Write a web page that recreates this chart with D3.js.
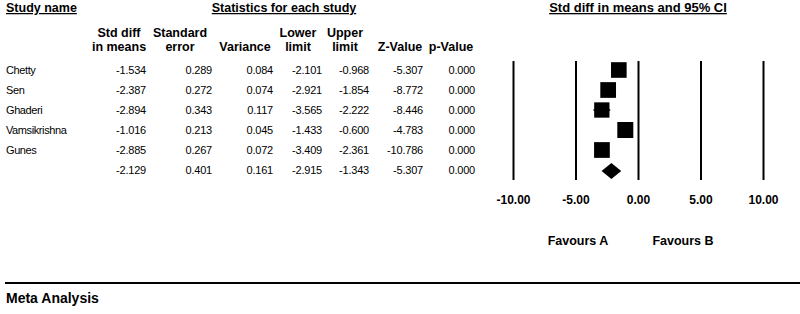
<!DOCTYPE html>
<html>
<head>
<meta charset="utf-8">
<script src="https://cdn.jsdelivr.net/npm/d3@7"></script>
<style>
  body { margin: 0; background: #fff; }
  text { font-family: "Liberation Sans", Arial, sans-serif; fill: #000; }
</style>
</head>
<body>
<div id="myChart"></div>
<script>
// Data
const studies   = ["Chetty", "Sen", "Ghaderi", "Vamsikrishna", "Gunes", ""];
const stdDiff   = [-1.534, -2.387, -2.894, -1.016, -2.885, -2.129];
const stdErr    = [0.289, 0.272, 0.343, 0.213, 0.267, 0.401];
const variance  = [0.084, 0.074, 0.117, 0.045, 0.072, 0.161];
const lowerLim  = [-2.101, -2.921, -3.565, -1.433, -3.409, -2.915];
const upperLim  = [-0.968, -1.854, -2.222, -0.600, -2.361, -1.343];
const zValue    = [-5.307, -8.772, -8.446, -4.783, -10.786, -5.307];
const pValue    = [0.000, 0.000, 0.000, 0.000, 0.000, 0.000];
const axisTicks = [-10, -5, 0, 5, 10];
const favours   = [{label: "Favours A", at: -4.8}, {label: "Favours B", at: 3.6}];

const w = 800, h = 314;

const svg = d3.select("#myChart")
  .append("svg")
    .attr("width", w)
    .attr("height", h)
    .attr("viewBox", [0, 0, w, h]);

const rows = d3.range(studies.length);
const yScale = d3.scalePoint().domain(rows).range([70, 170]);
const xScale = d3.scaleLinear().domain([-10, 10]).range([513, 763]);

// table columns (right edges)
const columns = [
  {key: "stdDiff",  vals: stdDiff,  head: ["Std diff", "in means"]},
  {key: "stdErr",   vals: stdErr,   head: ["Standard", "error"]},
  {key: "variance", vals: variance, head: ["", "Variance"]},
  {key: "lower",    vals: lowerLim, head: ["Lower", "limit"]},
  {key: "upper",    vals: upperLim, head: ["Upper", "limit"]},
  {key: "z",        vals: zValue,   head: ["", "Z-Value"]},
  {key: "p",        vals: pValue,   head: ["", "p-Value"]}
];
const colRight = d3.scaleOrdinal()
  .domain(columns.map(c => c.key))
  .range([146, 212, 273, 322, 369, 423, 475]);
const headCenter = d3.scaleOrdinal()
  .domain(columns.map(c => c.key))
  .range([119, 180, 245, 298, 345, 400, 451]);

// Section titles
const titles = [
  {t: "Study name", x: 6, anchor: "start", size: 12.5},
  {t: "Statistics for each study", x: 284, anchor: "middle", size: 12.5},
  {t: "Std diff in means and 95% CI", x: 638, anchor: "middle", size: 13}
];
svg.selectAll("text.title")
  .data(titles)
  .enter()
  .append("text")
    .attr("class", "title")
    .attr("x", d => d.x)
    .attr("y", 12)
    .attr("text-anchor", d => d.anchor)
    .style("font-size", d => d.size + "px")
    .style("font-weight", "bold")
    .style("text-decoration", "underline")
    .text(d => d.t);

// Column headers
columns.forEach(c => {
  c.head.forEach((line, i) => {
    if (!line) return;
    svg.append("text")
      .attr("x", headCenter(c.key))
      .attr("y", 37 + i * 14)
      .attr("text-anchor", "middle")
      .style("font-size", "12.5px")
      .style("font-weight", "bold")
      .text(line);
  });
});

// Study names
svg.selectAll("text.name")
  .data(rows)
  .enter()
  .append("text")
    .attr("class", "name")
    .attr("x", 6)
    .attr("y", i => yScale(i) + 4)
    .style("font-size", "11px")
    .style("letter-spacing", "-0.4px")
    .text(i => studies[i]);

// Numeric cells
columns.forEach(c => {
  svg.selectAll("text.cell-" + c.key)
    .data(rows)
    .enter()
    .append("text")
      .attr("class", "cell-" + c.key)
      .attr("x", colRight(c.key))
      .attr("y", i => yScale(i) + 4)
      .attr("text-anchor", "end")
      .style("font-size", "11px")
      .style("letter-spacing", "-0.2px")
      .text(i => c.vals[i].toFixed(3));
});

// Vertical reference lines + tick labels
const xAxis = d3.axisBottom(xScale)
  .tickValues(axisTicks)
  .tickFormat(d => d.toFixed(2))
  .tickSize(-(180 - 61))
  .tickPadding(15);

const axisG = svg.append("g")
  .attr("transform", "translate(0,180)")
  .call(xAxis);
axisG.select(".domain").remove();
axisG.selectAll(".tick line").attr("stroke", "#000").attr("stroke-width", 2);
axisG.selectAll(".tick text")
  .attr("fill", "#000")
  .style("font-family", "'Liberation Sans', Arial, sans-serif")
  .style("font-size", "12px")
  .style("font-weight", "bold");

// Random-effects weights for box sizes
const wFix = variance.slice(0, 5).map(v => 1 / v);
const sumW = d3.sum(wFix);
const meanFix = d3.sum(wFix.map((wi, i) => wi * stdDiff[i])) / sumW;
const Q = d3.sum(wFix.map((wi, i) => wi * (stdDiff[i] - meanFix) ** 2));
const C = sumW - d3.sum(wFix.map(wi => wi * wi)) / sumW;
const tau2 = Math.max(0, (Q - 4) / C);
const wRan = variance.slice(0, 5).map(v => 1 / (v + tau2));
const sizeScale = d3.scaleSqrt().domain([0, d3.max(wRan)]).range([0, 16]);

const studyRows = rows.slice(0, 5);

// CI lines
svg.selectAll("line.ci")
  .data(studyRows)
  .enter()
  .append("line")
    .attr("class", "ci")
    .attr("x1", i => xScale(lowerLim[i]))
    .attr("x2", i => xScale(upperLim[i]))
    .attr("y1", i => yScale(i))
    .attr("y2", i => yScale(i))
    .attr("stroke", "#000")
    .attr("stroke-width", 1.5);

// Boxes
svg.selectAll("rect.box")
  .data(studyRows)
  .enter()
  .append("rect")
    .attr("class", "box")
    .attr("x", i => xScale(stdDiff[i]) - sizeScale(wRan[i]) / 2)
    .attr("y", i => yScale(i) - sizeScale(wRan[i]) / 2)
    .attr("width", i => sizeScale(wRan[i]))
    .attr("height", i => sizeScale(wRan[i]))
    .attr("fill", "#000");

// Summary diamond
const s = 5;
const yc = yScale(s) + 1;
svg.append("path")
  .attr("d", `M${xScale(lowerLim[s])},${yc} L${xScale(stdDiff[s])},${yc - 8} L${xScale(upperLim[s])},${yc} L${xScale(stdDiff[s])},${yc + 8} Z`)
  .attr("fill", "#000");

// Favours labels
svg.selectAll("text.fav")
  .data(favours)
  .enter()
  .append("text")
    .attr("class", "fav")
    .attr("x", d => xScale(d.at))
    .attr("y", 245)
    .attr("text-anchor", "middle")
    .style("font-size", "12.5px")
    .style("font-weight", "bold")
    .text(d => d.label);

// Bottom rule and caption
svg.append("line")
  .attr("x1", 5).attr("x2", 800)
  .attr("y1", 283).attr("y2", 283)
  .attr("stroke", "#000")
  .attr("stroke-width", 2);

svg.append("text")
  .attr("x", 6)
  .attr("y", 303)
  .style("font-size", "14px")
  .style("font-weight", "bold")
  .text("Meta Analysis");
</script>
</body>
</html>
